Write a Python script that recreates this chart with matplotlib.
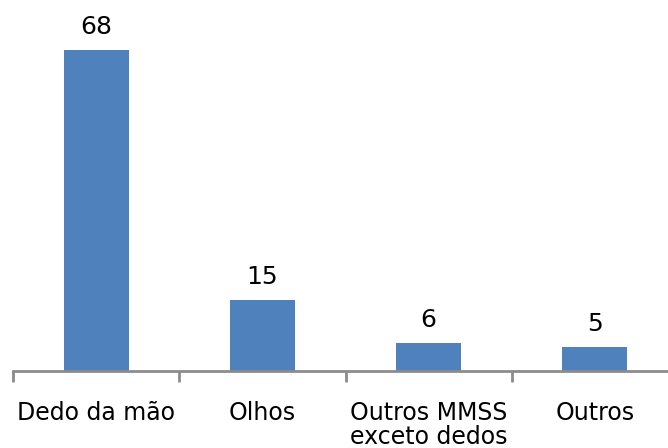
import matplotlib.pyplot as plt
import numpy as np

# dados
categorias = ['Dedo da mão', 'Olhos', 'Outros MMSS\nexceto dedos', 'Outros']
valores = [68, 15, 6, 5]

cor_barra = '#4F81BD'
cor_eixo = '#8C8C8C'

fig = plt.figure(figsize=(6.68, 4.48), dpi=100)
ax = fig.add_axes([13/668, 1-371/448, 665/668, 368/448])

x = np.arange(len(categorias))
barras = ax.bar(x, valores, width=0.39, color=cor_barra)
for xi, v in zip(x, valores):
    ax.annotate(str(v), (xi, v), xytext=(0, 8), textcoords='offset points',
                ha='center', va='bottom', fontsize=18, color='black')

ax.set_xlim(-0.5, len(categorias) - 0.5)
ax.set_ylim(0, 78)
ax.set_yticks([])
ax.set_xticks(np.arange(len(categorias) + 1) - 0.5)
ax.set_xticklabels([])
ax.tick_params(axis='x', length=8, width=2, color=cor_eixo, direction='out')
for xi, c in zip(x, categorias):
    ax.text(xi, -0.082, c, transform=ax.get_xaxis_transform(), ha='center', va='top',
            fontsize=17, linespacing=1.0)

for s in ['top', 'right', 'left']:
    ax.spines[s].set_visible(False)
ax.spines['bottom'].set_color(cor_eixo)
ax.spines['bottom'].set_linewidth(2)

fig.savefig('out.png', dpi=100)
